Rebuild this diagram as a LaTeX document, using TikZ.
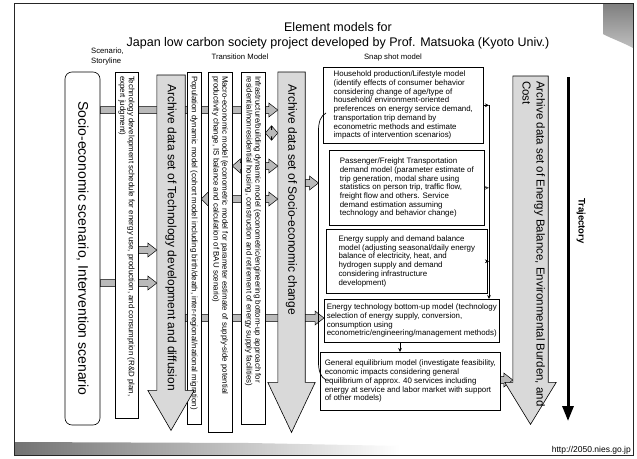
\documentclass[tikz,border=0pt]{standalone}
\usepackage{fontspec}
\setmainfont{Liberation Sans}
\usetikzlibrary{arrows.meta,calc,backgrounds}

\newcommand\vtext[2]{\rotatebox{-90}{\parbox{#1}{\raggedright\fontsize{7.9}{8.7}\selectfont #2}}}

% right-pointing block arrow from #1 to #2 at page height #3
\newcommand\rblock[3]{%
  \path[garrow] let \p1=(#1 |- 0,#3), \p2=(#2 |- 0,#3) in
  (\x1,\y1+3.5pt) -- (\x2-9pt,\y1+3.5pt) -- (\x2-9pt,\y1+7pt) -- (\x2,\y1)
  -- (\x2-9pt,\y1-7pt) -- (\x2-9pt,\y1-3.5pt) -- (\x1,\y1-3.5pt) -- cycle;}
% double-headed block arrow, left head length #4, right head length #5
\newcommand\dblock[5]{%
  \path[garrow] let \p1=(#1 |- 0,#3), \p2=(#2 |- 0,#3) in
  (\x1,\y1) -- (\x1+#4,\y1+7pt) -- (\x1+#4,\y1+3.5pt) -- (\x2-#5,\y1+3.5pt)
  -- (\x2-#5,\y1+7pt) -- (\x2,\y1) -- (\x2-#5,\y1-7pt) -- (\x2-#5,\y1-3.5pt)
  -- (\x1+#4,\y1-3.5pt) -- (\x1+#4,\y1-7pt) -- cycle;}

\begin{document}
\begin{tikzpicture}[x=1pt,y=-1pt,
  garrow/.style={draw=black, fill=black!27, line width=0.5pt},
  archive/.style={draw=black, fill=black!15, line width=0.6pt},
  vbox/.style={draw, fill=white, line width=0.6pt, inner sep=0pt},
  sbox/.style={draw, fill=white, line width=0.6pt, inner sep=2.5pt, align=left,
    anchor=north west, font=\fontsize{7.9}{8.7}\selectfont},
  tarr/.style={-{Stealth[length=4pt,width=3.6pt]}, line width=0.6pt},
  lbl/.style={font=\fontsize{7.7}{9.3}\selectfont, inner sep=0pt},
  bodynode/.style={inner sep=0pt, anchor=north},
  bigtext/.style={font=\fontsize{12}{14}\selectfont, inner sep=0pt, rotate=-90, anchor=west}]
\useasboundingbox (0,0) rectangle (637,458);

% slide decoration
\shade[left color=black!55, right color=white] (15,442) -- (250,443) -- (400,446) -- (400,455) -- (15,455) -- cycle;
\shade[top color=black!50, bottom color=black!25] (603,4) -- (633,4) -- (633,48)
  .. controls (622,42) and (610,38) .. (603,34) -- cycle;
\draw[line width=1.1pt, black!85] (14.5,3.5) rectangle (633.5,455.5);
\node[anchor=south east, font=\fontsize{8.5}{10}\selectfont, inner sep=1pt] (url) at (632,455) {http://2050.nies.go.jp};

% titles
\node[font=\fontsize{12.5}{15}\selectfont, inner sep=0pt] (t1) at (338,27) {Element models for};
\node[font=\fontsize{12.5}{15}\selectfont, inner sep=0pt] (t2) at (338,43) {Japan low carbon society project developed by Prof. Matsuoka (Kyoto Univ.)};
\node[lbl, align=left, anchor=north west] (scen) at (91,48) {Scenario,\\Storyline};
\node[lbl] (trans) at (240,57) {Transition Model};
\node[lbl] (snap) at (393,58) {Snap shot model};

% scenario and transition columns
\node[vbox, rounded corners=7pt, minimum width=35pt, minimum height=353pt] (socio) at (82.5,248.5)
  {\rotatebox{-90}{\fontsize{14}{16}\selectfont Socio-economic scenario, Intervention scenario}};
\node[vbox, minimum width=23pt, minimum height=346pt] (tech) at (126.5,245)
  {\vtext{338pt}{Technology development schedule for energy use, production, and consumption (R\&D plan,\\ expert judgment)}};
\node[vbox, minimum width=14pt, minimum height=352pt] (pop) at (194,248)
  {\vtext{344pt}{Population dynamic model (cohort model including birth/death, inter-regional/national migration)}};
\node[vbox, minimum width=24pt, minimum height=360pt] (macro) at (220,252)
  {\vtext{352pt}{Macro-economic model (econometric model for parameter estimate of supply-side potential\\ productivity change, IS balance and calculation of BAU scenario)}};
\node[vbox, minimum width=24pt, minimum height=352pt] (infra) at (253,248)
  {\vtext{344pt}{Infrastructure/building dynamic model (econometric/engineering bottom-up approach for\\ residential/nonresidential housing, construction and retirement of energy supply facilities)}};

% archive arrows
\node[bodynode, minimum width=28pt, minimum height=315pt] (ta) at (171,75) {};
\path[archive] (ta.north west) -- (ta.north east) -- (ta.south east) -- ++(9pt,0)
  -- ($(ta.south)+(0,40)$) -- ($(ta.south west)+(-9,0)$) -- (ta.south west) -- cycle;
\node[bigtext] (tatext) at ($(ta.north)+(0,9)$) {Archive data set of Technology development and diffusion};

\node[bodynode, minimum width=27pt, minimum height=310pt] (sa) at (291.5,72) {};
\path[archive] (sa.north west) -- (sa.north east) -- (sa.south east) -- ++(10pt,0)
  -- ($(sa.south)+(0,50)$) -- ($(sa.south west)+(-10,0)$) -- (sa.south west) -- cycle;
\node[bigtext] (satext) at ($(sa.north)+(0,12)$) {Archive data set of Socio-economic change};

\node[bodynode, minimum width=35pt, minimum height=306pt] (ea) at (530.5,76) {};
\path[archive] (ea.north west) -- (ea.north east) -- (ea.south east) -- ++(8pt,0)
  -- ($(ea.south)+(0,42)$) -- ($(ea.south west)+(-8,0)$) -- (ea.south west) -- cycle;
\node[font=\fontsize{11.5}{14}\selectfont, inner sep=0pt, rotate=-90, anchor=north west, align=left]
  (eatext) at ($(ea.north east)+(-3,5)$) {Archive data set of Energy Balance, Environmental Burden, and\\Cost};

% trajectory
\coordinate (trtop) at (568,77);
\coordinate (trbot) at (568,421);
\draw[line width=3pt, -{Triangle[length=15pt,width=11pt]}] (trtop) -- (trbot);
\node[font=\bfseries\fontsize{9.5}{11}\selectfont, rotate=-90, inner sep=0pt] (trlbl) at (581,221) {Trajectory};

% snap shot models
\node[sbox, minimum width=160pt, minimum height=76pt] (hh) at (323,67)
  {Household production/Lifestyle model\\(identify effects of consumer behavior\\considering change of age/type of\\household/ environment-oriented\\preferences on energy service demand,\\transportation trip demand by\\econometric methods and estimate\\impacts of intervention scenarios)};
\node[sbox, minimum width=155pt, minimum height=75pt] (pf) at (329,150)
  {Passenger/Freight Transportation\\demand model (parameter estimate of\\trip generation, modal share using\\statistics on person trip, traffic flow,\\freight flow and others. Service\\demand estimation assuming\\technology and behavior change)};
\node[sbox, minimum width=161pt, minimum height=64pt] (es) at (326,229)
  {Energy supply and demand balance\\model (adjusting seasonal/daily energy\\balance of electricity, heat, and\\hydrogen supply and demand\\considering infrastructure\\development)};
\node[sbox, minimum width=170pt, minimum height=43pt] (et) at (324,299)
  {Energy technology bottom-up model (technology\\selection of energy supply, conversion,\\consumption using\\econometric/engineering/management methods)};
\node[sbox, minimum width=180pt, minimum height=58pt] (ge) at (320,352)
  {General equilibrium model (investigate feasibility,\\economic impacts considering general\\equilibrium of approx. 40 services including\\energy at service and labor market with support\\of other models)};

% brace in front of snap shot models
\coordinate (brace) at (318.5,246);
\draw[line width=0.7pt] (326,113) .. controls (320.5,116) and (318.5,122) .. (318.5,131)
  -- (318.5,362) .. controls (318.5,371) and (320.5,377) .. (326,380);

% thin connectors
\coordinate (vline) at (489,0);
\coordinate (etge) at (400,0);
\draw[tarr] (hh.east) -- (hh.east -| vline);
\draw[tarr, line width=1.3pt, black!75] (pf.east) -- (pf.east -| vline);
\draw[tarr] (es.east) -- (es.east -| vline);
\draw[tarr] (hh.east -| vline) -- (vline |- et.north);
\draw[tarr] (etge |- et.south) -- (etge |- ge.north);

% block connectors behind everything
\begin{scope}[on background layer]
  \fill[white] (0,0) rectangle (637,458);
  \rblock{socio.east}{sa.west}{110}
  \rblock{tech.east}{ta.west}{250}
  \rblock{socio.east}{ta.west}{283}
  \rblock{ta.east}{et.west}{318}
  \dblock{infra.east}{sa.west}{133}{6pt}{6pt}
  \dblock{macro.east}{sa.west}{166}{8pt}{9pt}
  \dblock{pop.east}{sa.west}{199}{7pt}{9pt}
  \rblock{sa.east}{brace}{183}
  \rblock{ge.east}{ea.west}{380}
\end{scope}
\end{tikzpicture}
\end{document}
